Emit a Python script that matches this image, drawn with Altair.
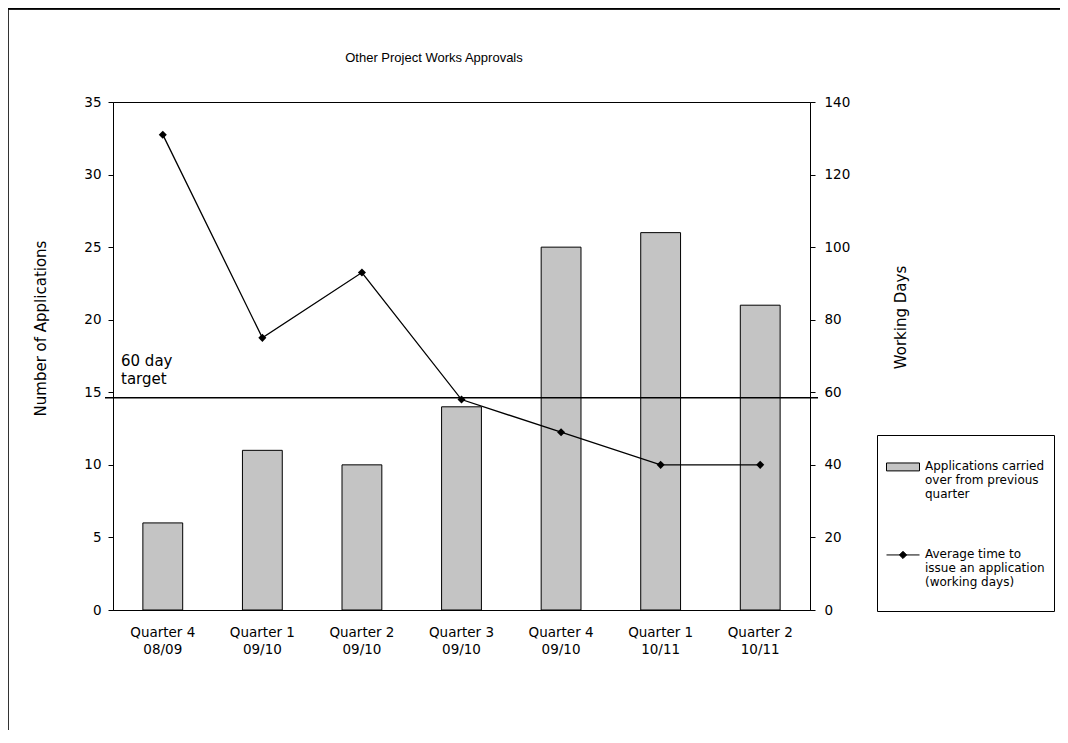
import altair as alt
import pandas as pd

# ---- data ----
chart_title = ["Other Project Works Approvals"]
quarters = [
    "Quarter 4\n08/09", "Quarter 1\n09/10", "Quarter 2\n09/10", "Quarter 3\n09/10",
    "Quarter 4\n09/10", "Quarter 1\n10/11", "Quarter 2\n10/11",
]
applications = [6, 11, 10, 14, 25, 26, 21]
working_days = [131, 75, 93, 58, 49, 40, 40]
target_days = [58.5]
target_label = ["60 day\ntarget"]
series_names = [
    "Applications carried\nover from previous\nquarter",
    "Average time to\nissue an application\n(working days)",
]
series_fills = ["#c4c4c4", "#000000"]
series_strokes = ["#000000", "#000000"]
left_ticks = [0, 5, 10, 15, 20, 25, 30, 35]
right_ticks = [0, 20, 40, 60, 80, 100, 120, 140]

FONT = "DejaVu Sans"
TFONT = "Liberation Sans"
# legend symbols (drawn slightly below centre so they line up with the first label line)
BAR_PATH = "M-1,0.12H1V0.6H-1Z"
LINE_PATH = "M-1,0.36H1M0,0.14L0.22,0.36L0,0.58L-0.22,0.36Z"

df = pd.DataFrame({"quarter": quarters, "applications": applications, "days": working_days})
target_df = pd.DataFrame({"target": target_days, "label": target_label})
legend_df = pd.DataFrame({"series": series_names})
title_df = pd.DataFrame({"title": chart_title})

x_enc = alt.X(
    "quarter:N", sort=quarters,
    scale=alt.Scale(paddingInner=0.6, paddingOuter=0.3),
    axis=alt.Axis(title=None, labelExpr="split(datum.label, '\\n')", labelAngle=0,
                  labelFontSize=13.5, labelPadding=15, ticks=False, labelLineHeight=17,
                  labelFont=FONT, labelColor="black", domainColor="black"),
)

bars = alt.Chart(df).mark_bar(fill="#c4c4c4", stroke="black", strokeWidth=1).encode(
    x=x_enc,
    y=alt.Y("applications:Q", scale=alt.Scale(domain=[0, 35]),
            axis=alt.Axis(title="Number of Applications", values=left_ticks, grid=False,
                          tickSize=5, labelFontSize=13.5, labelPadding=7, labelFont=FONT,
                          titleFont=FONT, titleFontSize=15, titleFontWeight="normal",
                          titleX=-73, titleY=226, titleAngle=270, titleAlign="center",
                          titleBaseline="middle", labelColor="black", titleColor="black",
                          domainColor="black", tickColor="black")),
)

days_scale = alt.Scale(domain=[0, 140])
right_axis = alt.Axis(orient="right", title="Working Days", values=right_ticks, grid=False,
                      tickSize=5, labelFontSize=13.5, labelPadding=9, labelFont=FONT,
                      titleFont=FONT, titleFontSize=15, titleFontWeight="normal",
                      titleX=90, titleY=215, titleAngle=270, titleAlign="center",
                      titleBaseline="middle", labelColor="black", titleColor="black",
                      domainColor="black", tickColor="black")

line = alt.Chart(df).mark_line(color="black", strokeWidth=1.3).encode(
    x=x_enc,
    y=alt.Y("days:Q", scale=days_scale, axis=right_axis),
)
points = alt.Chart(df).mark_point(shape="diamond", filled=True, color="black", size=65, opacity=1).encode(
    x=x_enc,
    y=alt.Y("days:Q", scale=days_scale, axis=right_axis),
)
target_rule = alt.Chart(target_df).mark_rule(color="black", strokeWidth=1.3).encode(
    y=alt.Y("target:Q", scale=days_scale, axis=right_axis),
    x=alt.value(-8), x2=alt.value(705),
)
target_text = alt.Chart(target_df).mark_text(
    align="left", baseline="bottom", dy=-29, fontSize=15, lineBreak="\n", lineHeight=18,
    font=FONT, color="black",
).encode(
    y=alt.Y("target:Q", scale=days_scale, axis=right_axis),
    x=alt.value(8),
    text="label:N",
)
right_layer = alt.layer(line, points, target_rule, target_text)

legend_params = dict(
    orient="none", legendX=764, legendY=333, direction="vertical", title=None,
    strokeColor="black", fillColor="white", padding=9, rowPadding=18,
    labelFont=FONT, labelFontSize=12, labelColor="black",
    labelExpr="split(datum.label + '\\n ', '\\n')", labelBaseline="top", labelOffset=5,
    labelLimit=250, symbolSize=1089, symbolOpacity=1, symbolStrokeWidth=1,
)
legend_layer = alt.Chart(legend_df).mark_point(filled=True, opacity=0).encode(
    shape=alt.Shape("series:N", scale=alt.Scale(domain=series_names, range=[BAR_PATH, LINE_PATH]),
                    legend=alt.Legend(**legend_params)),
    fill=alt.Fill("series:N", scale=alt.Scale(domain=series_names, range=series_fills),
                  legend=alt.Legend(**legend_params)),
    stroke=alt.Stroke("series:N", scale=alt.Scale(domain=series_names, range=series_strokes),
                      legend=alt.Legend(**legend_params)),
)

title_text = alt.Chart(title_df).mark_text(
    font=TFONT, fontSize=13, color="black", align="center", baseline="middle",
).encode(x=alt.value(321), y=alt.value(-44), text="title:N")

frame_left = alt.Chart(df).mark_rule(color="#333333", strokeWidth=1).encode(
    x=alt.value(-104.5), y=alt.value(-93.5), y2=alt.value(641))
frame_top = alt.Chart(df).mark_rule(color="black", strokeWidth=1.5).encode(
    x=alt.value(-104.5), x2=alt.value(947), y=alt.value(-93.5))

chart = alt.layer(bars, right_layer, legend_layer, title_text, frame_left, frame_top).resolve_scale(
    y="independent"
).properties(
    width=697, height=508,
    padding={"left": 105, "top": 94, "right": 250, "bottom": 120},
    autosize=alt.AutoSizeParams(type="none"),
).configure_view(stroke="black", strokeWidth=1)

chart.save("out.html", embed_options={"renderer": "svg", "actions": False})
